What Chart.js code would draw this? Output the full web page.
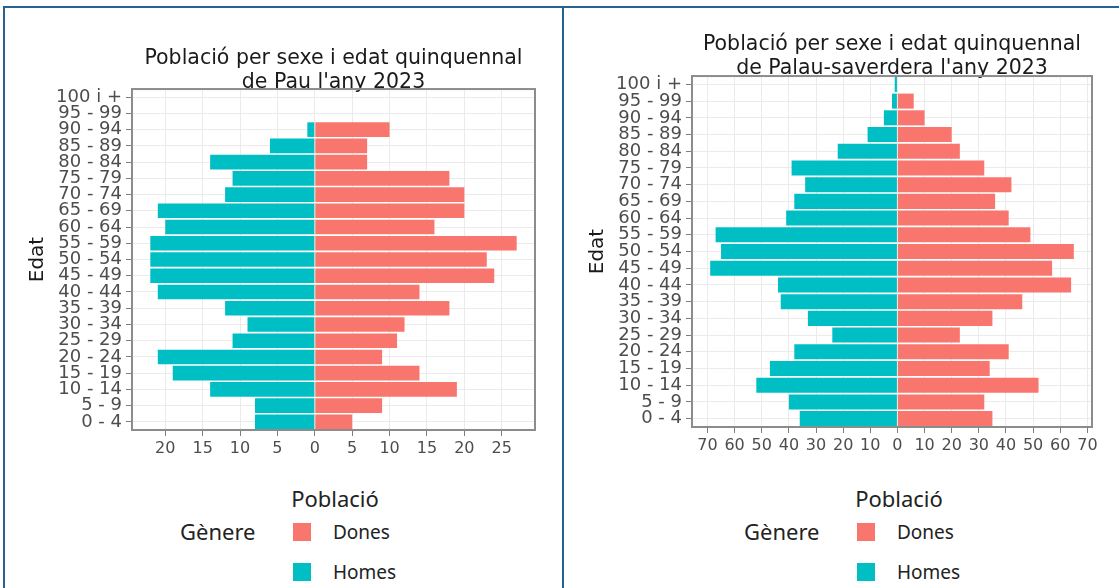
<!DOCTYPE html>
<html>
<head>
<meta charset="utf-8">
<script src="https://cdn.jsdelivr.net/npm/chart.js@4.4.1/dist/chart.umd.min.js"></script>
<style>
  html, body { margin: 0; padding: 0; background: #fff; }
  body { width: 1119px; height: 588px; position: relative; overflow: hidden; font-family: "Noto Sans", sans-serif; }
  .frame { position: absolute; left: 3px; top: 6px; width: 1130px; height: 600px; border-top: 2px solid #236392; border-left: 2px solid #236392; }
  .divider { position: absolute; left: 562px; top: 6px; width: 2px; height: 600px; background: #236392; }
  canvas { position: absolute; top: 0; }
  #cPau { left: 0; }
  #cPalau { left: 565px; }
  .leg { position: absolute; color: #222; font-size: 19px; line-height: 1; white-space: nowrap; transform: translateY(-50%); }
  .leg.big { font-size: 22px; }
  .sw { position: absolute; width: 18px; height: 18px; }
</style>
</head>
<body>
<div class="frame"></div>
<div class="divider"></div>
<canvas id="cPau" width="562" height="470"></canvas>
<canvas id="cPalau" width="554" height="470"></canvas>
<div id="legends"></div>
<script>
// age groups, bottom to top
const ageGroups = ['0 - 4','5 - 9','10 - 14','15 - 19','20 - 24','25 - 29','30 - 34','35 - 39','40 - 44','45 - 49',
  '50 - 54','55 - 59','60 - 64','65 - 69','70 - 74','75 - 79','80 - 84','85 - 89','90 - 94','95 - 99','100 i +'];

// Pau
const pauHomes = [8, 8, 14, 19, 21, 11, 9, 12, 21, 22, 22, 22, 20, 21, 12, 11, 14, 6, 1, 0, 0];
const pauDones = [5, 9, 19, 14, 9, 11, 12, 18, 14, 24, 23, 27, 16, 20, 20, 18, 7, 7, 10, 0, 0];
const pauTicks = [-20, -15, -10, -5, 0, 5, 10, 15, 20, 25];
const pauTitle = ['Població per sexe i edat quinquennal', "de Pau l'any 2023"];

// Palau-saverdera
const palauHomes = [36, 40, 52, 47, 38, 24, 33, 43, 44, 69, 65, 67, 41, 38, 34, 39, 22, 11, 5, 2, 1];
const palauDones = [35, 32, 52, 34, 41, 23, 35, 46, 64, 57, 65, 49, 41, 36, 42, 32, 23, 20, 10, 6, 0];
const palauTicks = [-70, -60, -50, -40, -30, -20, -10, 0, 10, 20, 30, 40, 50, 60, 70];
const palauTitle = ['Població per sexe i edat quinquennal', "de Palau-saverdera l'any 2023"];

const seriesNames = ['Dones', 'Homes'];
const seriesColors = ['#F8766D', '#00BFC4'];

const FONT = 'DejaVu Sans';

// ggplot-like 5% expansion of the value axis
function ggRange(homes, dones){
  const lo = -Math.max(...homes), hi = Math.max(...dones);
  const pad = (hi - lo) * 0.05;
  return [lo - pad, hi + pad];
}

const panelBorder = {
  id: 'panelBorder',
  afterDraw(chart){
    const {ctx, chartArea: a} = chart;
    ctx.save();
    ctx.strokeStyle = '#8c8c8c';
    ctx.lineWidth = 2;
    ctx.strokeRect(a.left, a.top, a.right - a.left, a.bottom - a.top);
    ctx.restore();
  }
};

function makePyramid(id, homes, dones, ticks, title, lay){
  const [xmin, xmax] = ggRange(homes, dones);
  return new Chart(document.getElementById(id), {
    type: 'bar',
    data: {
      labels: ageGroups,
      datasets: [
        { label: seriesNames[0], data: dones, backgroundColor: seriesColors[0] },
        { label: seriesNames[1], data: homes.map(v => -v), backgroundColor: seriesColors[1] }
      ]
    },
    options: {
      indexAxis: 'y',
      responsive: false,
      animation: false,
      layout: { padding: { left: 0, right: lay.right, top: lay.top, bottom: 0 } },
      datasets: { bar: { barPercentage: 0.9, categoryPercentage: 1 } },
      plugins: {
        legend: { display: false },
        tooltip: { enabled: false },
        title: {
          display: true, text: title, fullSize: false, color: '#1a1a1a',
          font: { family: FONT, size: 20.5, weight: 'normal', lineHeight: 1.15 },
          padding: { top: lay.titleTop, bottom: lay.titleBottom }
        }
      },
      scales: {
        x: {
          type: 'linear', stacked: true, min: xmin, max: xmax,
          afterBuildTicks: s => { s.ticks = ticks.map(v => ({ value: v })); },
          afterFit: s => { s.height = lay.xh; },
          grid: { color: '#ebebeb', tickColor: '#7f7f7f', tickLength: 6 },
          border: { display: false },
          ticks: { callback: v => Math.abs(v), color: '#4d4d4d', font: { family: FONT, size: 16 },
                   padding: 3, autoSkip: false, maxRotation: 0, minRotation: 0 }
        },
        y: {
          stacked: true, reverse: true,
          afterFit: s => { s.width = lay.yw; },
          grid: { offset: false, color: '#ebebeb', tickColor: '#7f7f7f', tickLength: 6 },
          border: { display: false },
          ticks: { color: '#4d4d4d', font: { family: FONT, size: 18 }, padding: 4, autoSkip: false },
          title: { display: true, text: 'Edat', color: '#1a1a1a',
                   font: { family: FONT, size: 20, lineHeight: 1.2 }, padding: { top: lay.edat, bottom: 0 } }
        }
      }
    },
    plugins: [panelBorder]
  });
}

makePyramid('cPau', pauHomes, pauDones, pauTicks, pauTitle,
  { right: 27, top: 42, titleTop: 5, titleBottom: -5.1, xh: 40, yw: 132, edat: 26 });
makePyramid('cPalau', palauHomes, palauDones, palauTicks, palauTitle,
  { right: 27, top: 30, titleTop: 3, titleBottom: -4.1, xh: 43, yw: 127, edat: 21 });

// plotly-style legends under each panel
function addLegend(dx){
  const box = document.getElementById('legends');
  const put = (cls, text, css) => {
    const el = document.createElement('div');
    el.className = cls;
    if (text) el.textContent = text;
    Object.assign(el.style, css);
    box.appendChild(el);
  };
  put('leg big', 'Població', { left: (335 + dx) + 'px', top: '498px', transform: 'translate(-50%,-50%)' });
  put('leg big', 'Gènere', { left: (180 + dx) + 'px', top: '531px' });
  const rows = [532, 572];
  seriesNames.forEach((name, i) => {
    put('sw', '', { left: (293 + dx) + 'px', top: (rows[i] - 9) + 'px', background: seriesColors[i] });
    put('leg', name, { left: (333 + dx) + 'px', top: rows[i] + 'px' });
  });
}
addLegend(0);
addLegend(564);
</script>
</body>
</html>
